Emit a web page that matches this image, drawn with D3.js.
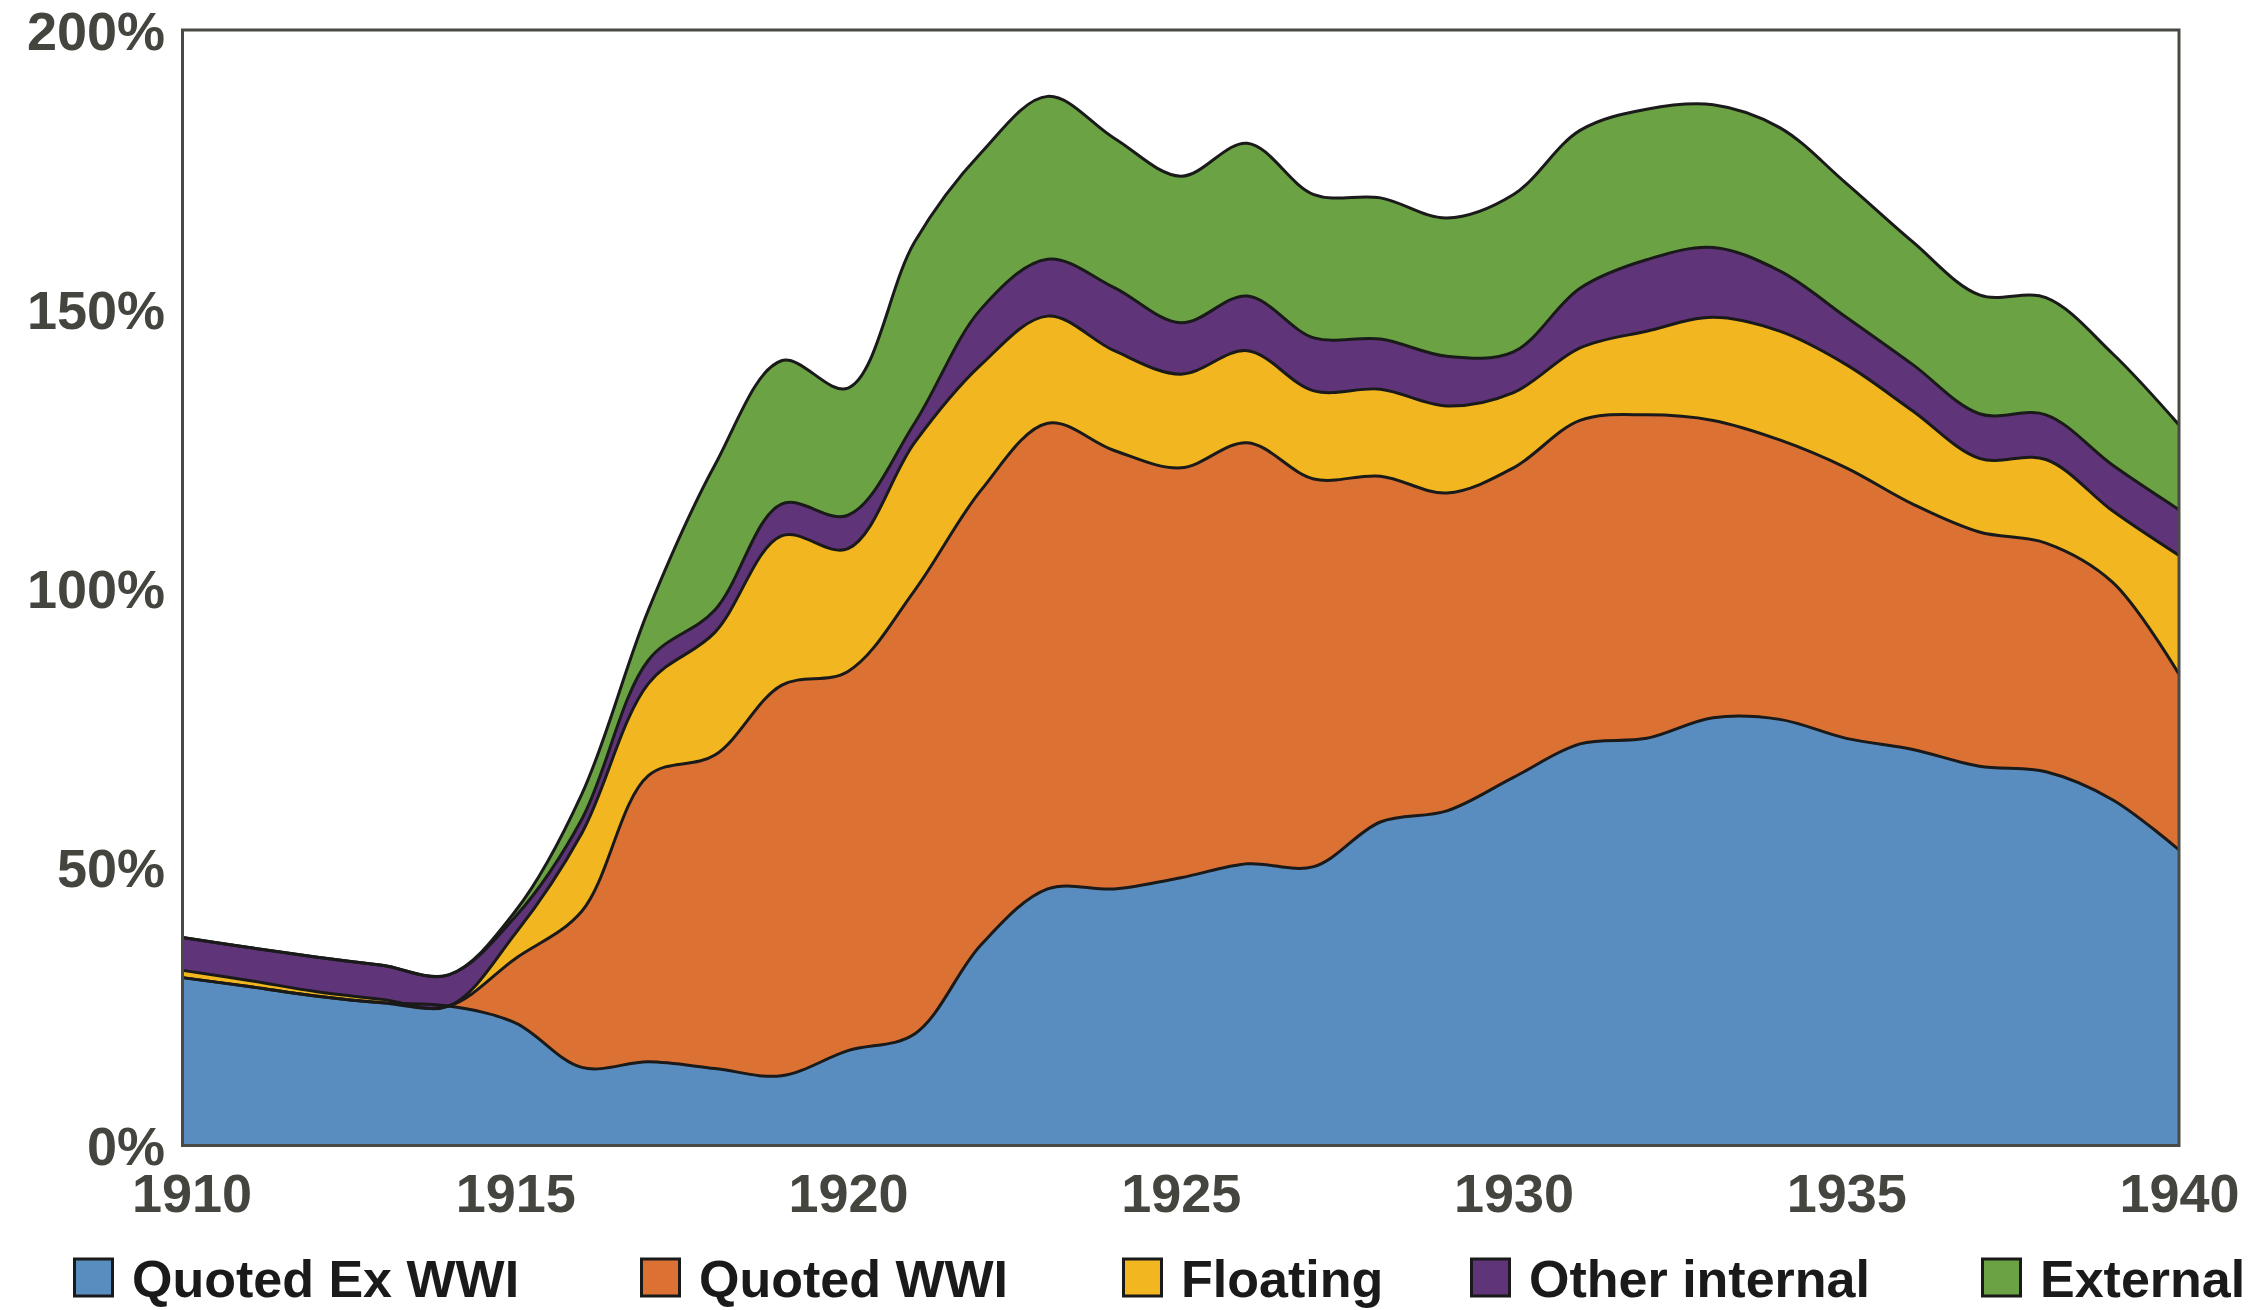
<!DOCTYPE html>
<html>
<head>
<meta charset="utf-8">
<script src="https://cdn.jsdelivr.net/npm/d3@7"></script>
<style>
  html, body { margin: 0; padding: 0; background: #fff; }
  svg { display: block; }
</style>
</head>
<body>
<svg id="chart" width="2254" height="1310"></svg>
<script>
// ---- Data (percent of GDP) ----
const years = [1910,1911,1912,1913,1914,1915,1916,1917,1918,1919,1920,1921,1922,1923,1924,1925,1926,1927,1928,1929,1930,1931,1932,1933,1934,1935,1936,1937,1938,1939,1940];
const seriesNames = ["Quoted Ex WWI", "Quoted WWI", "Floating", "Other internal", "External"];
const quotedExWWI = [30.1,28.5,26.8,25.6,25.0,22,14,15,13.8,12.5,17,20,36,46,46,48,50.5,50,58,60,66,72,73,76.7,76.4,73,71,68,67,62,53];
const quotedWWI   = [0,0,0,0,0,11.5,28,51.3,56.2,70,68,79.5,81.5,83.5,78.6,73.5,75.5,69.5,62,57,55.5,58,58,53.3,50.1,48.5,44,42,41,39,31.5];
const floating    = [1.3,1.1,0.8,0.6,0,4.5,14,16.5,22,26.8,22,26.5,22.5,19.2,17.9,16.8,16.5,15.8,15.6,15.6,13.5,13,15,18.5,19.5,18.5,16.7,13.2,15,12.8,21.3];
const otherInternal = [5.9,5.9,6.2,6.1,5.6,3,2.5,4.2,4,5.7,6,3.5,10,10.2,11.3,9.2,9.8,9.5,9,8.9,7.3,10.7,12.8,12.5,10.8,8.5,8.3,8,8,8.2,8.2];
const external    = [0,0,0,0,0,1,4.5,9,26,25.7,22.8,32.5,28,29.2,26.8,26.3,27.4,25.7,25.3,24.8,28.2,28.3,27,25.6,25.7,24,22,21.3,21,20,15.2];
const xTicks = [1910,1915,1920,1925,1930,1935,1940];
const yTicks = [0,50,100,150,200];
const colors = ["#5a8dbf", "#db7234", "#f2b720", "#5f3479", "#6ba243"];

// ---- Build table ----
const valueArrays = [quotedExWWI, quotedWWI, floating, otherInternal, external];
const table = years.map((y, i) => {
  const row = { year: y };
  seriesNames.forEach((k, j) => row[k] = valueArrays[j][i]);
  return row;
});

const svg = d3.select("#chart");
const margin = { left: 182.5, right: 2254 - 2179, top: 30, bottom: 1310 - 1145.5 };
const W = 2254, H = 1310;

const x = d3.scaleLinear().domain([1910, 1940]).range([margin.left, W - margin.right]);
const y = d3.scaleLinear().domain([0, 200]).range([H - margin.bottom, margin.top]);

const stack = d3.stack().keys(seriesNames);
const layers = stack(table);

svg.append("defs").append("clipPath").attr("id", "plotclip")
  .append("rect")
  .attr("x", x(1910)).attr("y", y(200))
  .attr("width", x(1940) - x(1910)).attr("height", y(0) - y(200));

const curve = d3.curveCatmullRom.alpha(0.5);
const area = d3.area()
  .x(d => x(d.data.year))
  .y0(d => y(d[0]))
  .y1(d => y(d[1]))
  .curve(curve);
const topLine = d3.line()
  .x(d => x(d.data.year))
  .y(d => y(d[1]))
  .curve(curve);

const g = svg.append("g").attr("clip-path", "url(#plotclip)");
g.selectAll("path.area")
  .data(layers)
  .join("path")
  .attr("class", "area")
  .attr("fill", (d, i) => colors[i])
  .attr("d", area);

g.selectAll("path.edge")
  .data(layers)
  .join("path")
  .attr("class", "edge")
  .attr("fill", "none")
  .attr("stroke", "#1a1a1a")
  .attr("stroke-width", 3)
  .attr("stroke-linejoin", "round")
  .attr("d", topLine);

// frame
svg.append("rect")
  .attr("x", x(1910)).attr("y", y(200))
  .attr("width", x(1940) - x(1910)).attr("height", y(0) - y(200))
  .attr("fill", "none")
  .attr("stroke", "#4a4a44")
  .attr("stroke-width", 3);

const tickColor = "#45453f";
const fontFamily = "'Liberation Sans', Arial, Helvetica, sans-serif";

// Y axis
const yAxis = svg.append("g")
  .attr("transform", `translate(165,0)`)
  .call(d3.axisLeft(y).tickValues(yTicks).tickSize(0).tickPadding(0).tickFormat(d => d + "%"));
yAxis.select(".domain").remove();
yAxis.selectAll("text")
  .attr("fill", tickColor)
  .attr("font-family", fontFamily)
  .attr("font-weight", "bold")
  .attr("font-size", 54)
  .attr("dy", "0.36em")
  .attr("text-anchor", "end");

// X axis
const xAxis = svg.append("g")
  .attr("transform", `translate(0,${y(0)})`)
  .call(d3.axisBottom(x).tickValues(xTicks).tickSize(0).tickPadding(0).tickFormat(d3.format("d")));
xAxis.select(".domain").remove();
xAxis.selectAll("text")
  .attr("fill", tickColor)
  .attr("font-family", fontFamily)
  .attr("font-weight", "bold")
  .attr("font-size", 54)
  .attr("y", 0)
  .attr("dy", 1212 - 1145.5)
  .attr("dx", d => d === 1910 ? 9 : 0);

// Legend
const legendX = [73, 640, 1122, 1470, 1981];
const legend = svg.append("g");
const items = legend.selectAll("g.item")
  .data(seriesNames)
  .join("g")
  .attr("class", "item")
  .attr("transform", (d, i) => `translate(${legendX[i]},0)`);
items.append("rect")
  .attr("x", 1.5).attr("y", 1259)
  .attr("width", 38).attr("height", 37)
  .attr("fill", (d, i) => colors[i])
  .attr("stroke", "#1a1a1a")
  .attr("stroke-width", 3);
items.append("text")
  .attr("x", 59).attr("y", 1297)
  .attr("fill", "#1a1a1a")
  .attr("font-family", fontFamily)
  .attr("font-weight", "bold")
  .attr("font-size", 52)
  .text(d => d);
</script>
</body>
</html>
